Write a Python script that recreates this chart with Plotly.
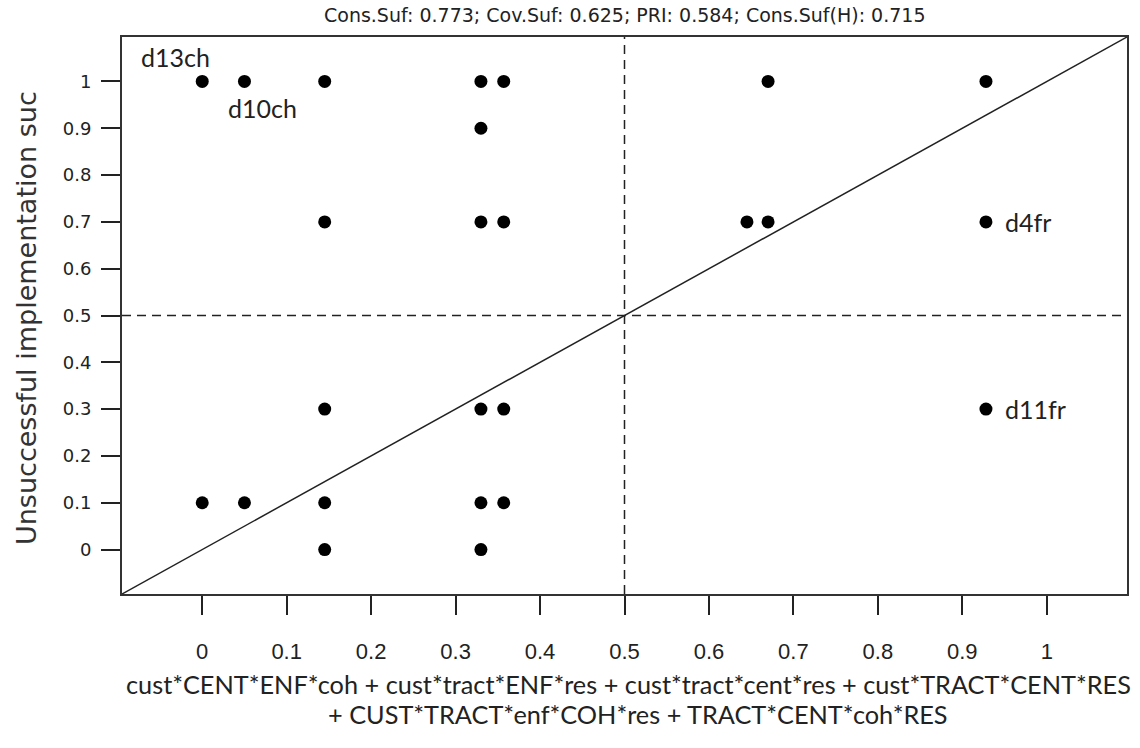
import plotly.graph_objects as go

# ---- data ----
x_vals = [0.0, 0.05, 0.145, 0.33, 0.357, 0.67, 0.928,
          0.33,
          0.145, 0.33, 0.357, 0.645, 0.67, 0.928,
          0.145, 0.33, 0.357, 0.928,
          0.0, 0.05, 0.145, 0.33, 0.357,
          0.145, 0.33]
y_vals = [1, 1, 1, 1, 1, 1, 1,
          0.9,
          0.7, 0.7, 0.7, 0.7, 0.7, 0.7,
          0.3, 0.3, 0.3, 0.3,
          0.1, 0.1, 0.1, 0.1, 0.1,
          0, 0]
case_labels = ["d13ch", "d10ch", "d4fr", "d11fr"]
case_x = [0.0, 0.05, 0.928, 0.928]
case_y = [1, 1, 0.7, 0.3]
tick_vals = [0, 0.1, 0.2, 0.3, 0.4, 0.5, 0.6, 0.7, 0.8, 0.9, 1]
tick_text = ["0", "0.1", "0.2", "0.3", "0.4", "0.5", "0.6", "0.7", "0.8", "0.9", "1"]
axis_range = [-0.095, 1.095]
title_text = "Cons.Suf: 0.773; Cov.Suf: 0.625; PRI: 0.584; Cons.Suf(H): 0.715"
x_title_lines = ["cust*CENT*ENF*coh + cust*tract*ENF*res + cust*tract*cent*res + cust*TRACT*CENT*RES",
                 "+ CUST*TRACT*enf*COH*res + TRACT*CENT*coh*RES"]
y_title = "Unsuccessful implementation suc"

# page layout in page pixels (body margin removed by post_script)
FIG_W, FIG_H = 1140, 748
PLOT_L, PLOT_R, PLOT_T, PLOT_B = 122, 1127, 37, 594


def px(page_x):
    return (page_x - PLOT_L) / (PLOT_R - PLOT_L)


def py(page_y):
    return (PLOT_B - page_y) / (PLOT_B - PLOT_T)


fig = go.Figure()

# diagonal y = x across full range
fig.add_trace(go.Scatter(x=axis_range, y=axis_range, mode="lines",
                         line=dict(color="#222", width=1.5), hoverinfo="skip", showlegend=False))
fig.add_trace(go.Scatter(x=x_vals, y=y_vals, mode="markers",
                         marker=dict(color="black", size=13), showlegend=False))

# dashed 0.5 lines
fig.add_shape(type="line", xref="x", yref="paper", x0=0.5, x1=0.5, y0=0, y1=1,
              line=dict(color="#222", width=1.5, dash="9px,6px"))
fig.add_shape(type="line", xref="paper", yref="y", x0=0, x1=1, y0=0.5, y1=0.5,
              line=dict(color="#222", width=1.5, dash="9px,6px"))

label_font = dict(family="Lato, Carlito, Calibri, sans-serif", size=25, color="#222")
shifts = [(-27, 24, "center"), (18, -27, "center"), (17, 0, "left"), (17, 0, "left")]
for lab, cx, cy, (dx, dy, anc) in zip(case_labels, case_x, case_y, shifts):
    fig.add_annotation(x=cx, y=cy, xref="x", yref="y", text=lab, showarrow=False,
                       xshift=dx, yshift=dy, xanchor=anc, yanchor="middle", font=label_font)

# title
fig.add_annotation(x=px(625), y=py(15), xref="paper", yref="paper", text=title_text,
                   showarrow=False, xanchor="center", yanchor="middle",
                   font=dict(family="DejaVu Sans, Liberation Sans, Arial", size=19, color="#222"))
# x title (two lines)
xt_font = dict(label_font, size=25.3)
fig.add_annotation(x=px(628), y=py(684), xref="paper", yref="paper", text=x_title_lines[0],
                   showarrow=False, xanchor="center", yanchor="middle", font=xt_font)
fig.add_annotation(x=px(638), y=py(714), xref="paper", yref="paper", text=x_title_lines[1],
                   showarrow=False, xanchor="center", yanchor="middle", font=xt_font)
# y title
fig.add_annotation(x=px(26), y=py(318), xref="paper", yref="paper", text=y_title,
                   textangle=-90, showarrow=False, xanchor="center", yanchor="middle",
                   font=dict(family="DejaVu Sans, Liberation Sans, Arial", size=27, color="#333"))

axis_common = dict(range=axis_range, tickvals=tick_vals, ticktext=tick_text,
                   ticks="outside", ticklen=19, tickwidth=1.5, tickcolor="#222",
                   showgrid=False, zeroline=False, showline=True, linecolor="#333",
                   linewidth=2, mirror=True)
fig.update_xaxes(**axis_common, ticklabelstandoff=18,
                 tickfont=dict(family="Liberation Sans Narrow, Arial Narrow, Liberation Sans", size=22, color="#222"))
fig.update_yaxes(**axis_common, ticklabelstandoff=6,
                 tickfont=dict(family="DejaVu Sans, Liberation Sans, Arial", size=18, color="#222"))

fig.update_layout(width=FIG_W, height=FIG_H, plot_bgcolor="white", paper_bgcolor="white",
                  margin=dict(l=PLOT_L, r=FIG_W - PLOT_R, t=PLOT_T, b=FIG_H - PLOT_B),
                  showlegend=False)

fig.write_html("out.html", config={"displayModeBar": False},
               post_script="document.body.style.margin='0';document.body.style.overflow='hidden';")
